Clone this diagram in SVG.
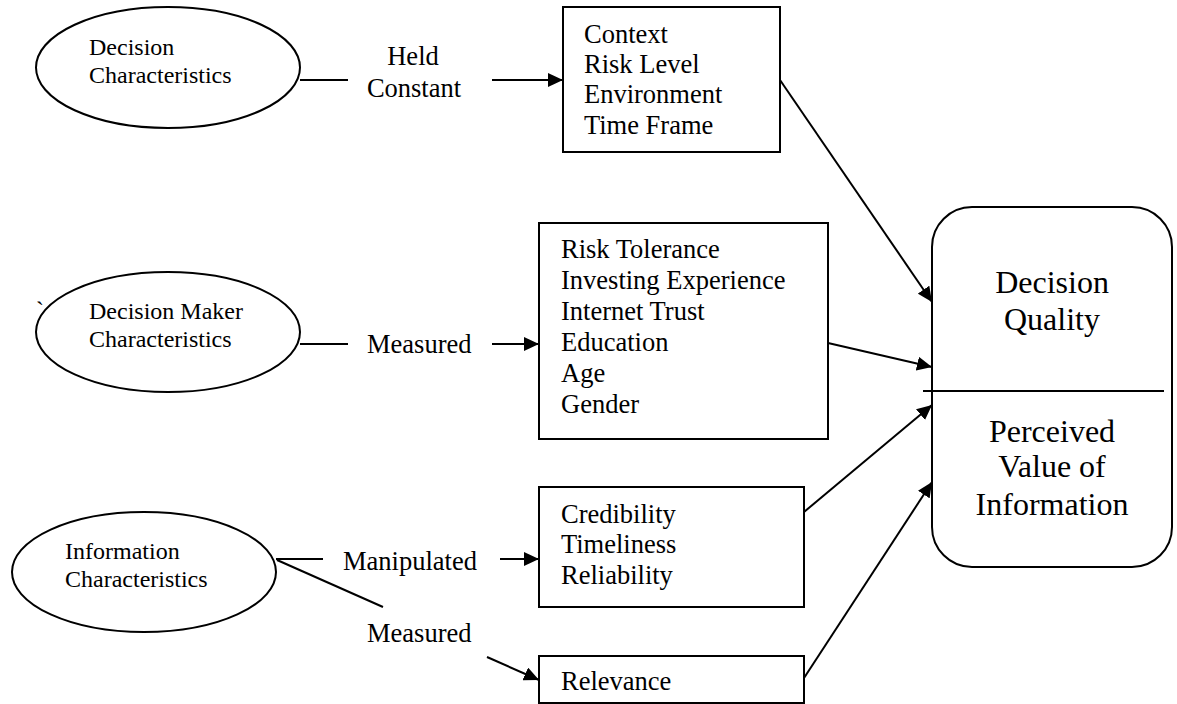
<svg xmlns="http://www.w3.org/2000/svg" width="1177" height="704" viewBox="0 0 1177 704">
<style>
.shape{fill:#fff;stroke:#000;stroke-width:2}
.conn{stroke:#000;stroke-width:2;fill:none}
.t{font-family:"Liberation Serif","Times New Roman",serif;fill:#000}
.el{font-size:24px}
.bx{font-size:26.5px}
.lb{font-size:26.5px}
.big{font-size:32px;text-anchor:middle}
</style>
<defs>
<marker id="arr" markerUnits="userSpaceOnUse" markerWidth="16" markerHeight="14" refX="15" refY="7" orient="auto">
<path d="M0,0 L15,7 L0,14 Z" fill="#000"/>
</marker>
</defs>
<rect width="1177" height="704" fill="#fff"/>

<g id="node-decision-characteristics">
<ellipse class="shape" cx="168" cy="67.5" rx="132" ry="60.5"/>
<text class="t el" x="89" y="55">Decision</text>
<text class="t el" x="89" y="83">Characteristics</text>
</g>

<g id="node-decision-maker-characteristics">
<ellipse class="shape" cx="168" cy="332" rx="132" ry="60"/>
<text class="t el" x="36" y="318">`</text>
<text class="t el" x="89" y="319">Decision Maker</text>
<text class="t el" x="89" y="347">Characteristics</text>
</g>

<g id="node-information-characteristics">
<ellipse class="shape" cx="144" cy="572" rx="132" ry="60"/>
<text class="t el" x="65" y="559">Information</text>
<text class="t el" x="65" y="587">Characteristics</text>
</g>

<g id="node-context">
<rect class="shape" x="563" y="7" width="217" height="145"/>
<text class="t bx" x="584" y="43">Context</text>
<text class="t bx" x="584" y="73">Risk Level</text>
<text class="t bx" x="584" y="103">Environment</text>
<text class="t bx" x="584" y="134">Time Frame</text>
</g>

<g id="node-risk-tolerance">
<rect class="shape" x="539" y="223" width="289" height="216"/>
<text class="t bx" x="561" y="258">Risk Tolerance</text>
<text class="t bx" x="561" y="289">Investing Experience</text>
<text class="t bx" x="561" y="320">Internet Trust</text>
<text class="t bx" x="561" y="351">Education</text>
<text class="t bx" x="561" y="382">Age</text>
<text class="t bx" x="561" y="413">Gender</text>
</g>

<g id="node-credibility">
<rect class="shape" x="539" y="487" width="265" height="120"/>
<text class="t bx" x="561" y="523">Credibility</text>
<text class="t bx" x="561" y="553">Timeliness</text>
<text class="t bx" x="561" y="584">Reliability</text>
</g>

<g id="node-relevance">
<rect class="shape" x="539" y="656" width="265" height="47"/>
<text class="t bx" x="561" y="690">Relevance</text>
</g>

<g id="node-outcome">
<rect class="shape" x="932" y="207" width="240" height="360" rx="40" ry="40"/>
<line class="conn" x1="923" y1="391" x2="1164" y2="391"/>
<text class="t big" x="1052" y="293">Decision</text>
<text class="t big" x="1052" y="330">Quality</text>
<text class="t big" x="1052" y="442">Perceived</text>
<text class="t big" x="1052" y="477">Value of</text>
<text class="t big" x="1052" y="515">Information</text>
</g>

<g id="connectors">
<line class="conn" x1="300" y1="80" x2="348" y2="80"/>
<line class="conn" x1="492" y1="80" x2="563" y2="80" marker-end="url(#arr)"/>
<line class="conn" x1="300" y1="344" x2="348" y2="344"/>
<line class="conn" x1="492" y1="344" x2="539" y2="344" marker-end="url(#arr)"/>
<line class="conn" x1="276" y1="559" x2="323" y2="559"/>
<line class="conn" x1="500" y1="559" x2="539" y2="559" marker-end="url(#arr)"/>
<line class="conn" x1="277" y1="560" x2="383" y2="607"/>
<line class="conn" x1="487" y1="657" x2="539" y2="680" marker-end="url(#arr)"/>
<line class="conn" x1="780" y1="80" x2="932" y2="302" marker-end="url(#arr)"/>
<line class="conn" x1="828" y1="343" x2="932" y2="367" marker-end="url(#arr)"/>
<line class="conn" x1="804" y1="512" x2="932" y2="405" marker-end="url(#arr)"/>
<line class="conn" x1="804" y1="678" x2="932" y2="482" marker-end="url(#arr)"/>
</g>

<g id="labels">
<text class="t lb" x="413" y="65" text-anchor="middle">Held</text>
<text class="t lb" x="414" y="97" text-anchor="middle">Constant</text>
<text class="t lb" x="367" y="353">Measured</text>
<text class="t lb" x="343" y="570">Manipulated</text>
<text class="t lb" x="367" y="642">Measured</text>
</g>
</svg>
